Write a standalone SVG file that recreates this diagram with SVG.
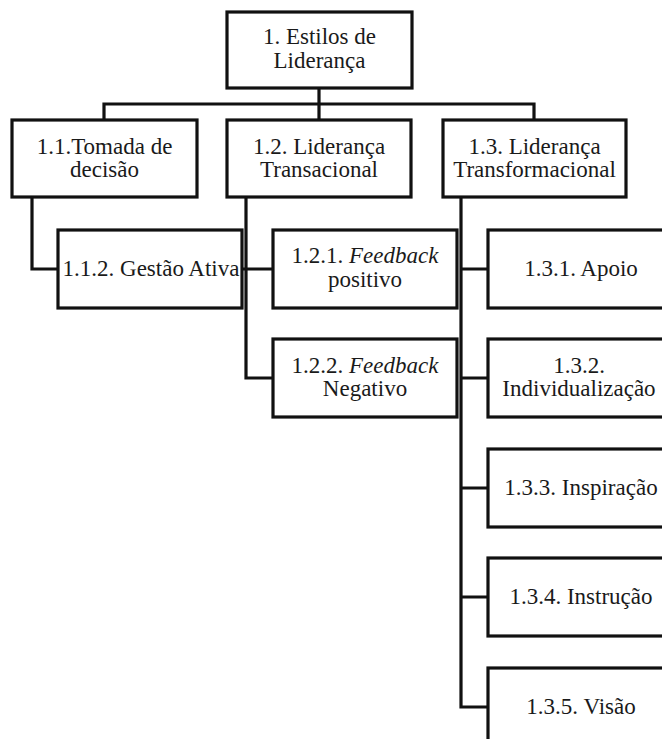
<svg xmlns="http://www.w3.org/2000/svg" width="662" height="739" viewBox="0 0 662 739">
<style>
.box{fill:#fff;stroke:#111;stroke-width:3.2}
.ln{fill:none;stroke:#111;stroke-width:3.2;stroke-linecap:square}
.it{font-style:italic}
</style>
<defs/>
<rect width="662" height="739" fill="#fff"/>
<g id="connectors">
<path class="ln" d="M319,88 V120 M104,104 H534 M104,104 V120 M534,104 V120"/>
<path class="ln" d="M32,197 V269 H58"/>
<path class="ln" d="M246,197 V378 H273 M242,269 H273"/>
<path class="ln" d="M461,197 V707 M461,269 H488 M461,378 H488 M461,488 H488 M461,597 H488 M461,707 H488"/>
</g>
<g font-family="Liberation Serif" font-size="23" fill="#1a1a1a" text-anchor="middle">
<g id="n1"><rect class="box" x="227" y="12" width="185" height="76"/><text font-family="Liberation Serif" x="319.5" y="44">1. Estilos de</text><text font-family="Liberation Serif" x="319.5" y="68">Liderança</text></g>
<g id="n1_1"><rect class="box" x="12" y="120" width="185" height="77"/><text font-family="Liberation Serif" x="104.5" y="154">1.1.Tomada de</text><text font-family="Liberation Serif" x="104.5" y="177">decisão</text></g>
<g id="n1_2"><rect class="box" x="227" y="120" width="184" height="77"/><text font-family="Liberation Serif" x="319" y="154">1.2. Liderança</text><text font-family="Liberation Serif" x="319" y="177">Transacional</text></g>
<g id="n1_3"><rect class="box" x="443" y="120" width="183" height="77"/><text font-family="Liberation Serif" x="534.5" y="154">1.3. Liderança</text><text font-family="Liberation Serif" x="534.5" y="177">Transformacional</text></g>
<g id="n1_1_2"><rect class="box" x="58" y="230" width="184" height="78"/><text font-family="Liberation Serif" x="151" y="276">1.1.2. Gestão Ativa</text></g>
<g id="n1_2_1"><rect class="box" x="273" y="230" width="184" height="78"/><text font-family="Liberation Serif" x="365" y="263">1.2.1. <tspan class="it">Feedback</tspan></text><text font-family="Liberation Serif" x="365" y="287">positivo</text></g>
<g id="n1_2_2"><rect class="box" x="273" y="339" width="184" height="78"/><text font-family="Liberation Serif" x="365" y="373">1.2.2. <tspan class="it">Feedback</tspan></text><text font-family="Liberation Serif" x="365" y="396">Negativo</text></g>
<g id="n1_3_1"><rect class="box" x="488" y="230" width="186" height="78"/><text font-family="Liberation Serif" x="581" y="276">1.3.1. Apoio</text></g>
<g id="n1_3_2"><rect class="box" x="488" y="339" width="186" height="78"/><text font-family="Liberation Serif" x="579" y="373">1.3.2.</text><text font-family="Liberation Serif" x="579" y="396">Individualização</text></g>
<g id="n1_3_3"><rect class="box" x="488" y="449" width="186" height="78"/><text font-family="Liberation Serif" x="581" y="495">1.3.3. Inspiração</text></g>
<g id="n1_3_4"><rect class="box" x="488" y="558" width="186" height="78"/><text font-family="Liberation Serif" x="581" y="604">1.3.4. Instrução</text></g>
<g id="n1_3_5"><rect class="box" x="488" y="668" width="186" height="90"/><text font-family="Liberation Serif" x="581" y="714">1.3.5. Visão</text></g>
</g>
</svg>
